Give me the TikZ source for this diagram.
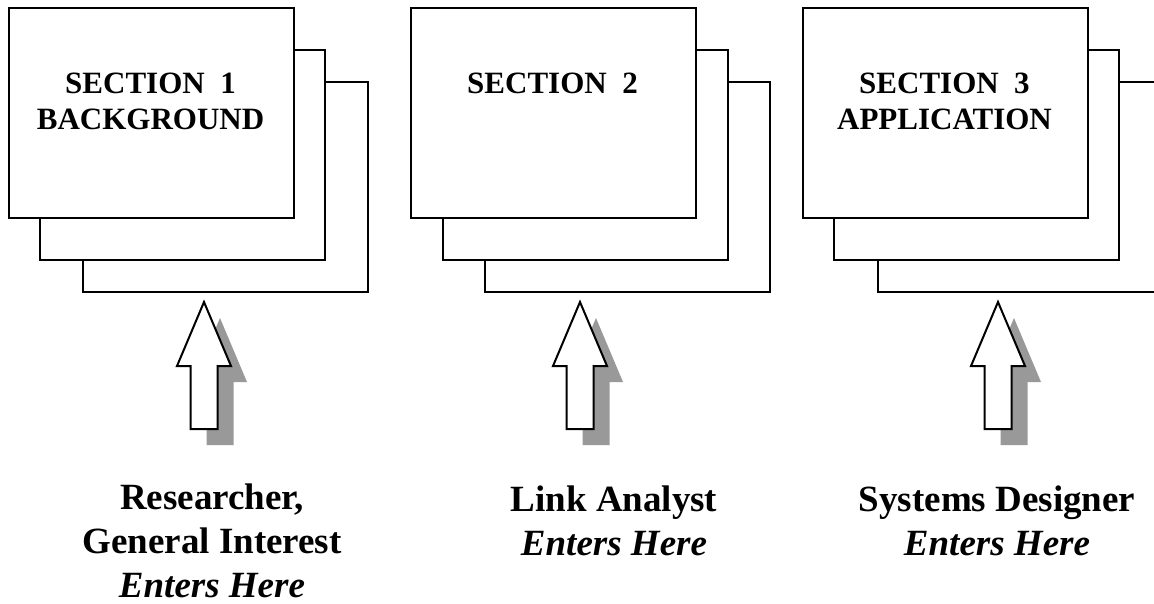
\documentclass[tikz,border=0pt]{standalone}
\usepackage{fontspec}
\setmainfont{Liberation Serif}
\begin{document}
\begin{tikzpicture}[x=1pt,y=-1pt,
  page/.style={draw, line width=2.2pt, fill=white, rectangle, inner sep=0pt,
    minimum width=285pt, minimum height=210pt, anchor=north west},
  sectext/.style={font=\bfseries\fontsize{31}{36}\selectfont, align=center,
    anchor=base, inner sep=0pt},
  who/.style={font=\bfseries\fontsize{37}{44}\selectfont, align=center,
    anchor=base, inner sep=0pt},
  upbody/.style={draw, line width=2pt, fill=white, line join=miter},
  upshadow/.style={fill=black!40, draw=none}]
\useasboundingbox (0,0) rectangle (1154,603);
\newcommand\entryarrow[1]{%
  \fill[upshadow, shift={(#1+16,16)}] (0,302) -- (27,366) -- (13.5,366) -- (13.5,429)
     -- (-13.5,429) -- (-13.5,366) -- (-27,366) -- cycle;
  \path[upbody, shift={(#1,0)}] (0,302) -- (27,366) -- (13.5,366) -- (13.5,429)
     -- (-13.5,429) -- (-13.5,366) -- (-27,366) -- cycle;}
% group 1
\node[page] (b1c) at (82,81) {};
\node[page] (b1b) at (39,49) {};
\node[page] (b1a) at (8,7) {};
\node[sectext] (s1) at (150.5,129) {SECTION\ \ 1\\BACKGROUND};
% group 2
\node[page] (b2c) at (484,81) {};
\node[page] (b2b) at (442,49) {};
\node[page] (b2a) at (410,7) {};
\node[sectext] (s2) at (552.5,93) {SECTION\ \ 2};
% group 3
\node[page] (b3c) at (877,81) {};
\node[page] (b3b) at (833,49) {};
\node[page] (b3a) at (802,7) {};
\node[sectext] (s3) at (944.5,129) {SECTION\ \ 3\\APPLICATION};
% arrows
\entryarrow{204}
\entryarrow{580}
\entryarrow{998}
% labels
\node[who] (w1) at (212,597) {Researcher,\\General Interest\\\textit{Enters Here}};
\node[who] (w2) at (614,555) {Link Analyst\\\textit{Enters Here}};
\node[who] (w3) at (997,555) {Systems Designer\\\textit{Enters Here}};
\end{tikzpicture}
\end{document}
